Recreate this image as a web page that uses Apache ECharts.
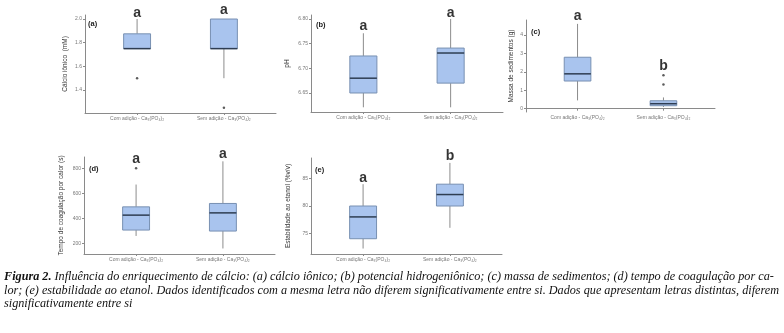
<!DOCTYPE html>
<html><head><meta charset="utf-8">
<script src="https://cdn.jsdelivr.net/npm/echarts@6/dist/echarts.min.js"></script>
<style>html,body{margin:0;padding:0;background:#fff;} #c{width:784px;height:333px;}</style>
</head><body><div id="c"></div>
<script>
// ---------- DATA ----------
const categories = ['Com adição - Ca₃(PO₄)₂', 'Sem adição - Ca₃(PO₄)₂'];
// each box: [low whisker, Q1, median, Q3, high whisker]
const boxA = [[1.75, 1.75, 1.75, 1.875, 2.0], [1.5, 1.75, 1.75, 2.0, 2.0]];
const outA = [[1, 1.5], [2, 1.25]];
const letA = ['a', 'a'];
const letYA = [2.051, 2.076];
const ticksA = [1.4, 1.6, 1.8, 2.0];

const boxB = [[6.621, 6.65, 6.68, 6.725, 6.771], [6.621, 6.67, 6.731, 6.741, 6.80]];
const outB = [];
const letB = ['a', 'a'];
const letYB = [6.786, 6.812];
const ticksB = [6.65, 6.70, 6.75, 6.80];

const boxC = [[0.45, 1.50, 1.89, 2.79, 4.6], [0.09, 0.16, 0.27, 0.43, 0.61]];
const outC = [[2, 1.31], [2, 1.82]];
const letC = ['a', 'b'];
const letYC = [5.03, 2.29];
const ticksC = [0, 1, 2, 3, 4];

const boxD = [[260, 307, 426, 492, 670], [160, 299, 444, 519, 855]];
const outD = [[1, 800]];
const letD = ['a', 'a'];
const letYD = [869, 911];
const ticksD = [200, 400, 600, 800];

const boxE = [[72.2, 74.0, 78.0, 80.0, 84.0], [76.0, 80.0, 82.1, 84.0, 87.9]];
const outE = [];
const letE = ['a', 'b'];
const letYE = [85.1, 89.1];
const ticksE = [75, 80, 85];

const yTitles = ['Cálcio iônico  (mM)', 'pH', 'Massa de sedimentos (g)', 'Tempo de coagulação por calor (s)', 'Estabilidade ao etanol (%v/v)'];
const panelTags = ['(a)', '(b)', '(c)', '(d)', '(e)'];
const captionLines = [
  'Influência do enriquecimento de cálcio: (a) cálcio iônico; (b) potencial hidrogeniônico; (c) massa de sedimentos; (d) tempo de coagulação por ca-',
  'lor; (e) estabilidade ao etanol. Dados identificados com a mesma letra não diferem significativamente entre si. Dados que apresentam letras distintas, diferem',
  'significativamente entre si'
];
const captionLead = 'Figura 2.';

// ---------- LAYOUT ----------
const panels = [
  {box: boxA, out: outA, let: letA, letY: letYA, ticks: ticksA, dec: 1, left: 85, top: 15, width: 191, height: 98, min: 1.206, max: 2.034, gap: 16, tag: [93, 25]},
  {box: boxB, out: outB, let: letB, letY: letYB, ticks: ticksB, dec: 2, left: 311, top: 15, width: 192, height: 97, min: 6.6115, max: 6.808, gap: 20, tag: [321, 26]},
  {box: boxC, out: outC, let: letC, letY: letYC, ticks: ticksC, dec: 0, left: 526, top: 20, width: 189, height: 92, min: -0.18, max: 4.81, gap: 11, tag: [536, 33]},
  {box: boxD, out: outD, let: letD, letY: letYD, ticks: ticksD, dec: 0, left: 84, top: 157, width: 191, height: 97, min: 116, max: 889.6, gap: 19, tag: [94, 170]},
  {box: boxE, out: outE, let: letE, letY: letYE, ticks: ticksE, dec: 0, left: 311, top: 158, width: 191, height: 96, min: 71.2, max: 88.8, gap: 19, tag: [320, 171]}
];

const SANS = '"Liberation Sans", Arial, sans-serif';
const axisGray = '#8a8a8a';

function renderBox(params, api) {
  const x = api.value(0);
  const lo = api.coord([x, api.value(1)]);
  const q1 = api.coord([x, api.value(2)]);
  const md = api.coord([x, api.value(3)]);
  const q3 = api.coord([x, api.value(4)]);
  const hi = api.coord([x, api.value(5)]);
  const w = api.size([0.31, 0])[0];
  const cx = lo[0];
  return {type: 'group', children: [
    {type: 'line', shape: {x1: cx, y1: hi[1], x2: cx, y2: q3[1]}, style: {stroke: '#8c8c8c', lineWidth: 1}},
    {type: 'line', shape: {x1: cx, y1: q1[1], x2: cx, y2: lo[1]}, style: {stroke: '#8c8c8c', lineWidth: 1}},
    {type: 'rect', shape: {x: cx - w / 2, y: q3[1], width: w, height: Math.max(q1[1] - q3[1], 0.5)}, style: {fill: '#a9c4ee', stroke: '#7890b2', lineWidth: 1}},
    {type: 'line', shape: {x1: cx - w / 2, y1: md[1], x2: cx + w / 2, y2: md[1]}, style: {stroke: '#2e3d52', lineWidth: 1.5}}
  ]};
}

const grid = [], xAxis = [], yAxis = [], series = [], graphic = [];
panels.forEach((p, i) => {
  grid.push({left: p.left, top: p.top, width: p.width, height: p.height});
  xAxis.push({
    type: 'value', gridIndex: i, min: 0.4, max: 2.6,
    axisLine: {show: true, lineStyle: {color: axisGray, width: 1}},
    axisTick: {show: true, customValues: [1, 2], length: 2, lineStyle: {color: axisGray}},
    axisLabel: {customValues: [1, 2], formatter: v => categories[Math.round(v) - 1], fontSize: 5, color: '#777', margin: 3, fontFamily: SANS},
    splitLine: {show: false}
  });
  yAxis.push({
    type: 'value', gridIndex: i, min: p.min, max: p.max,
    axisLine: {show: true, lineStyle: {color: axisGray, width: 1}},
    axisTick: {show: true, customValues: p.ticks, length: 2, lineStyle: {color: axisGray}},
    axisLabel: {customValues: p.ticks, formatter: v => Number(v).toFixed(p.dec), fontSize: 5, color: '#777', margin: 3, fontFamily: SANS},
    splitLine: {show: false},
    name: yTitles[i], nameLocation: 'middle', nameGap: p.gap,
    nameTextStyle: {fontSize: 6.5, color: '#333', fontFamily: SANS}
  });
  series.push({
    type: 'custom', xAxisIndex: i, yAxisIndex: i, renderItem: renderBox, clip: false,
    encode: {x: 0, y: [1, 2, 3, 4, 5]},
    data: p.box.map((b, k) => [k + 1].concat(b)), silent: true
  });
  series.push({
    type: 'scatter', xAxisIndex: i, yAxisIndex: i, symbolSize: 2.5, clip: false,
    itemStyle: {color: '#333'}, data: p.out, silent: true
  });
  series.push({
    type: 'scatter', xAxisIndex: i, yAxisIndex: i, symbolSize: 1, clip: false,
    itemStyle: {color: 'rgba(0,0,0,0)'},
    label: {show: true, position: 'inside', formatter: q => q.value[2], fontSize: 14, fontWeight: 'bold', color: '#000', fontFamily: SANS},
    data: p.let.map((l, k) => [k + 1, p.letY[k], l]), silent: true
  });
  graphic.push({type: 'text', left: p.tag[0] - 5, top: p.tag[1] - 5, style: {text: panelTags[i], fontSize: 7.5, fontWeight: 'bold', fill: '#222', fontFamily: SANS}});
});

// caption fitting
const SERIF = '"Liberation Serif", "Times New Roman", serif';
const cv = document.createElement('canvas').getContext('2d');
function mw(str, size, bold) { cv.font = 'italic ' + (bold ? 'bold ' : '') + size + 'px ' + SERIF; return cv.measureText(str).width; }
const base = 12;
const w1 = mw(captionLead + ' ', base, true) + mw(captionLines[0], base, false);
const w2 = mw(captionLines[1], base, false);
const fs = Math.min(base * 776 / w1, base * 776 / w2);
const capY = [277, 291, 304];
graphic.push({type: 'text', left: 4, top: capY[0] - fs / 2, style: {
  text: '{b|' + captionLead + '} ' + captionLines[0], fontSize: fs, fontStyle: 'italic', fontFamily: SERIF, fill: '#111',
  rich: {b: {fontWeight: 'bold', fontStyle: 'italic', fontSize: fs, fontFamily: SERIF, fill: '#111'}}
}});
graphic.push({type: 'text', left: 4, top: capY[1] - fs / 2, style: {text: captionLines[1], fontSize: fs, fontStyle: 'italic', fontFamily: SERIF, fill: '#111'}});
graphic.push({type: 'text', left: 4, top: capY[2] - fs / 2, style: {text: captionLines[2], fontSize: fs, fontStyle: 'italic', fontFamily: SERIF, fill: '#111'}});

const chart = echarts.init(document.getElementById('c'), null, {renderer: 'canvas'});
chart.setOption({animation: false, backgroundColor: '#fff', grid, xAxis, yAxis, series, graphic});
</script></body></html>
